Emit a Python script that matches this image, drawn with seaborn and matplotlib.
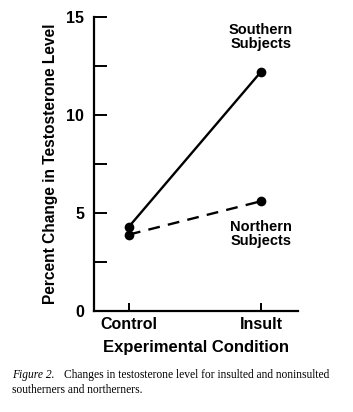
import matplotlib
matplotlib.use("Agg")
import matplotlib.pyplot as plt
import seaborn as sns
import pandas as pd

# data
conditions = ["Control", "Insult"]
southern = [4.3, 12.2]
northern = [3.9, 5.6]
y_ticks = [0, 2.5, 5, 7.5, 10, 12.5, 15]
y_tick_labels = ["0", "", "5", "", "10", "", "15"]

sns.set_theme(style="ticks", rc={"text.color": "black", "axes.labelcolor": "black",
                                 "xtick.color": "black", "ytick.color": "black",
                                 "axes.edgecolor": "black"})
plt.rcParams["font.family"] = ["Liberation Sans", "DejaVu Sans"]

df = pd.DataFrame({
    "condition": conditions * 2,
    "pct": southern + northern,
    "group": ["Southern"] * 2 + ["Northern"] * 2,
})

fig = plt.figure(figsize=(3.53, 4.12), dpi=100)
ax = fig.add_axes([0.266, 0.245, 0.578, 0.714])

sns.lineplot(data=df, x="condition", y="pct", style="group",
             style_order=["Southern", "Northern"],
             dashes={"Southern": "", "Northern": (5, 3.5)},
             markers={"Southern": "o", "Northern": "o"},
             color="black", lw=1.7, markersize=7, markeredgewidth=0,
             legend=False, ax=ax)

ax.set_xlim(-0.265, 1.28)
ax.set_ylim(0, 15)
ax.set_yticks(y_ticks)
ax.set_yticklabels(y_tick_labels)
ax.tick_params(axis="y", direction="in", length=9, width=1.4, pad=7,
               labelsize=11.5)
ax.tick_params(axis="x", direction="in", length=6, width=1.4, pad=4,
               labelsize=11.5)
for lab in ax.get_xticklabels() + ax.get_yticklabels():
    lab.set_fontweight("bold")
sns.despine(ax=ax)
ax.spines["left"].set_linewidth(1.6)
ax.spines["bottom"].set_linewidth(1.6)

ax.set_xlabel("Experimental Condition", fontsize=12, fontweight="bold",
              labelpad=6)
ax.set_ylabel("Percent Change in Testosterone Level", fontsize=11.2,
              fontweight="bold", labelpad=6)

ax.text(1, 14.0, "Southern\nSubjects", ha="center", va="center",
        fontsize=10.5, fontweight="bold", linespacing=1.0)
ax.text(1, 3.95, "Northern\nSubjects", ha="center", va="center",
        fontsize=10.5, fontweight="bold", linespacing=1.0)

# caption
fig.text(0.034, 0.083, "Figure 2.", fontsize=8.3, style="italic",
         family="Liberation Serif", va="baseline")
fig.text(0.181, 0.083,
         "Changes in testosterone level for insulted and noninsulted",
         fontsize=8.3, family="Liberation Serif", va="baseline")
fig.text(0.034, 0.046, "southerners and northerners.", fontsize=8.3,
         family="Liberation Serif", va="baseline")

fig.savefig("out.png", dpi=100)
